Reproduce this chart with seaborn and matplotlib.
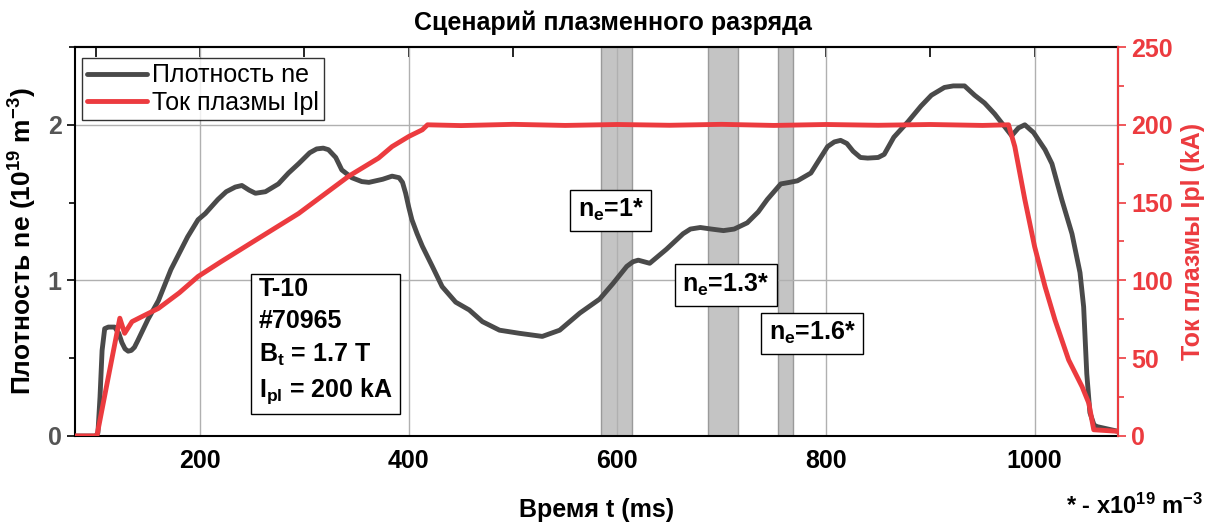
import numpy as np
import pandas as pd
import matplotlib
matplotlib.use("Agg")
import matplotlib.pyplot as plt
import seaborn as sns
from matplotlib.ticker import MultipleLocator

# ---- data ----
t_ne = [80, 100, 102, 104, 106, 108.5, 112, 118, 122, 125, 128, 131, 134, 137, 140, 145, 150,
        160, 172, 188, 198, 205, 217, 225, 233.7, 240, 247, 253, 262.6, 275, 284.7, 294.4, 305,
        311.7, 318, 323, 330, 335.8, 345.4, 355, 361.8, 375, 384, 390.7, 394, 397, 400, 403,
        408, 413, 422.6, 432, 445, 458, 470.6, 487, 506, 528, 544.7, 564, 583, 595.8, 609, 615,
        620, 631, 647, 663, 670, 679.5, 690, 701.7, 712, 724.5, 735, 743.7, 756.6, 765, 772.6,
        785.5, 793, 801.5, 808, 814, 820, 826, 833, 840, 850, 855.8, 865, 878.6, 891, 901,
        913.5, 922, 932.8, 942.5, 952, 961.7, 971, 978, 984.5, 990.6, 999, 1010, 1016.6, 1026,
        1035.8, 1043.5, 1047, 1050, 1053, 1057, 1060, 1080]
ne = [0.0, 0.0, 0.02, 0.25, 0.55, 0.69, 0.70, 0.70, 0.66, 0.60, 0.56, 0.545, 0.55, 0.57, 0.61,
      0.68, 0.75, 0.87, 1.07, 1.28, 1.39, 1.43, 1.52, 1.57, 1.60, 1.61, 1.58, 1.56, 1.57, 1.62,
      1.69, 1.75, 1.82, 1.845, 1.85, 1.84, 1.79, 1.71, 1.66, 1.635, 1.63, 1.65, 1.67, 1.66,
      1.63, 1.56, 1.47, 1.39, 1.30, 1.22, 1.09, 0.96, 0.86, 0.81, 0.735, 0.68, 0.66, 0.64,
      0.68, 0.79, 0.88, 0.98, 1.09, 1.12, 1.13, 1.11, 1.20, 1.30, 1.33, 1.34, 1.33, 1.32, 1.33,
      1.37, 1.44, 1.52, 1.62, 1.63, 1.64, 1.69, 1.77, 1.86, 1.89, 1.90, 1.88, 1.83, 1.79,
      1.786, 1.79, 1.81, 1.92, 2.02, 2.12, 2.19, 2.24, 2.25, 2.25, 2.19, 2.14, 2.07, 1.99,
      1.93, 1.98, 2.00, 1.95, 1.84, 1.75, 1.52, 1.30, 1.05, 0.83, 0.40, 0.15, 0.07, 0.06,
      0.03]

t_ip = [80, 101, 112, 123, 127.6, 134.7, 145, 160, 180, 198, 220, 253.5, 294.4, 342.5, 371,
        384, 400, 413, 418, 450, 500, 550, 600, 650, 700, 750, 800, 850, 900, 950, 975, 981,
        990.6, 1000, 1010, 1019.5, 1032.6, 1045.5, 1052, 1055, 1056.7, 1080]
ip = [0, 0, 38, 75.7, 66, 73.5, 77, 82, 92, 102.5, 112, 126, 143, 167, 178.6, 186, 192.5,
      196.8, 200, 199.5, 200.3, 199.6, 200.2, 199.7, 200.3, 199.6, 200.2, 199.7, 200.2, 199.6,
      200, 186, 152, 121.7, 96, 74.6, 48.9, 31.7, 21, 10, 4, 3]

bands = [(584, 614), (687, 716), (754, 768)]
band_labels = ["n$_e$=1*", "n$_e$=1.3*", "n$_e$=1.6*"]
label_pos = [(593.8, 1.45), (704, 0.97), (787, 0.66)]

x_ticks = [200, 400, 600, 800, 1000]
y_ticks = [0, 1, 2]
y2_ticks = [0, 50, 100, 150, 200, 250]

df_ne = pd.DataFrame({"t": t_ne, "ne": ne})
df_ip = pd.DataFrame({"t": t_ip, "ip": ip})

# ---- style ----
sns.set_theme(style="white")
plt.rcParams["font.family"] = ["Liberation Sans", "DejaVu Sans"]
plt.rcParams["mathtext.default"] = "regular"
plt.rcParams["text.color"] = "black"
plt.rcParams["axes.labelcolor"] = "black"

GRAY = "#4a4a4a"
RED = "#ec3b3f"
FS = 18

fig = plt.figure(figsize=(12.21, 5.27), dpi=100)
ax = fig.add_axes([0.0614, 0.1727, 0.8543, 0.7381])
ax2 = ax.twinx()

for a, b in bands:
    ax.axvspan(a, b, facecolor="#c4c4c4", edgecolor="#9a9a9a", lw=1, zorder=0.3)

sns.lineplot(data=df_ne, x="t", y="ne", ax=ax, color=GRAY, lw=3.5, label="Плотность ne",
             legend=False, zorder=3)
sns.lineplot(data=df_ip, x="t", y="ip", ax=ax2, color=RED, lw=3.5, label="Ток плазмы Ipl",
             legend=False, zorder=3)

ax.set_xlim(80, 1080)
ax.set_ylim(0, 2.5)
ax2.set_ylim(0, 250)

ax.set_xticks(x_ticks)
ax.set_yticks(y_ticks)
ax2.set_yticks(y2_ticks)
ax.xaxis.set_minor_locator(MultipleLocator(100))
ax.yaxis.set_minor_locator(MultipleLocator(0.5))
ax2.yaxis.set_minor_locator(MultipleLocator(25))

ax.grid(True, which="major", color="#b0b0b0", lw=1)
ax.set_axisbelow(True)

ax.tick_params(axis="x", which="both", direction="out", top=False, labelsize=FS,
               labelcolor="black", color="black", width=1.2)
ax.tick_params(axis="x", which="major", length=6)
ax.tick_params(axis="x", which="minor", length=4)
ax.tick_params(axis="y", which="both", direction="out", labelsize=FS, labelcolor="#555555",
               color="black", width=1.2)
ax.tick_params(axis="y", which="major", length=6)
ax.tick_params(axis="y", which="minor", length=4)
ax2.tick_params(axis="y", which="both", direction="out", labelsize=FS, labelcolor=RED,
                color=RED, width=1.2)
ax2.tick_params(axis="y", which="major", length=6)
ax2.tick_params(axis="y", which="minor", length=4)

# mirrored top ticks pointing inward
sec = ax.secondary_xaxis("top")
sec.set_xticks(x_ticks)
sec.xaxis.set_minor_locator(MultipleLocator(100))
sec.tick_params(axis="x", which="both", direction="in", labeltop=False, color="black",
                width=1.2)
sec.tick_params(axis="x", which="major", length=7)
sec.tick_params(axis="x", which="minor", length=7)
sec.spines["top"].set_linewidth(1.5)

for lab in ax.get_xticklabels() + ax.get_yticklabels() + ax2.get_yticklabels():
    lab.set_fontweight("bold")

for s in ax.spines.values():
    s.set_color("black")
    s.set_linewidth(1.5)
ax2.spines["right"].set_color(RED)
ax2.spines["right"].set_linewidth(1.5)
ax2.spines["left"].set_visible(False)
ax2.spines["top"].set_visible(False)
ax2.spines["bottom"].set_visible(False)

ax.set_xlabel("Время t (ms)", fontsize=FS, fontweight="bold", labelpad=18)
ax.set_ylabel("Плотность ne (10$^{19}$ m$^{-3}$)", fontsize=19, fontweight="bold", labelpad=6)
ax2.set_ylabel("Ток плазмы Ipl (kA)", fontsize=FS, fontweight="bold", color=RED, labelpad=6)
ax.set_title("Сценарий плазменного разряда", fontsize=FS, fontweight="bold", pad=12, x=0.516)

h1, l1 = ax.get_legend_handles_labels()
h2, l2 = ax2.get_legend_handles_labels()
leg = ax2.legend(h1 + h2, l1 + l2, loc="upper left", fontsize=FS, frameon=True,
                 fancybox=False, edgecolor="black", handlelength=2.4, borderpad=0.2,
                 labelspacing=0.15, handletextpad=0.2, bbox_to_anchor=(0.0, 0.99),
                 borderaxespad=0.3)
leg.get_frame().set_linewidth(1.0)
leg.set_zorder(10)

box = dict(boxstyle="square,pad=0.3", facecolor="white", edgecolor="black", lw=1.0)
for txt, (x, y) in zip(band_labels, label_pos):
    ax2.text(x, y, txt, transform=ax.transData, ha="center", va="center", fontsize=FS,
             fontweight="bold", bbox=box, zorder=10)

ax2.text(256, 1.02, "T-10\n#70965\nB$_t$ = 1.7 T\nI$_{pl}$ = 200 kA", transform=ax.transData,
         ha="left", va="top", fontsize=FS, fontweight="bold", linespacing=1.42,
         bbox=dict(boxstyle="square,pad=0.3", facecolor="white", edgecolor="black", lw=1.0),
         zorder=10)

fig.text(0.985, 0.015, "* - x10$^{19}$ m$^{-3}$", ha="right", va="bottom", fontsize=17,
         fontweight="bold")

fig.savefig("out.png", dpi=100)
